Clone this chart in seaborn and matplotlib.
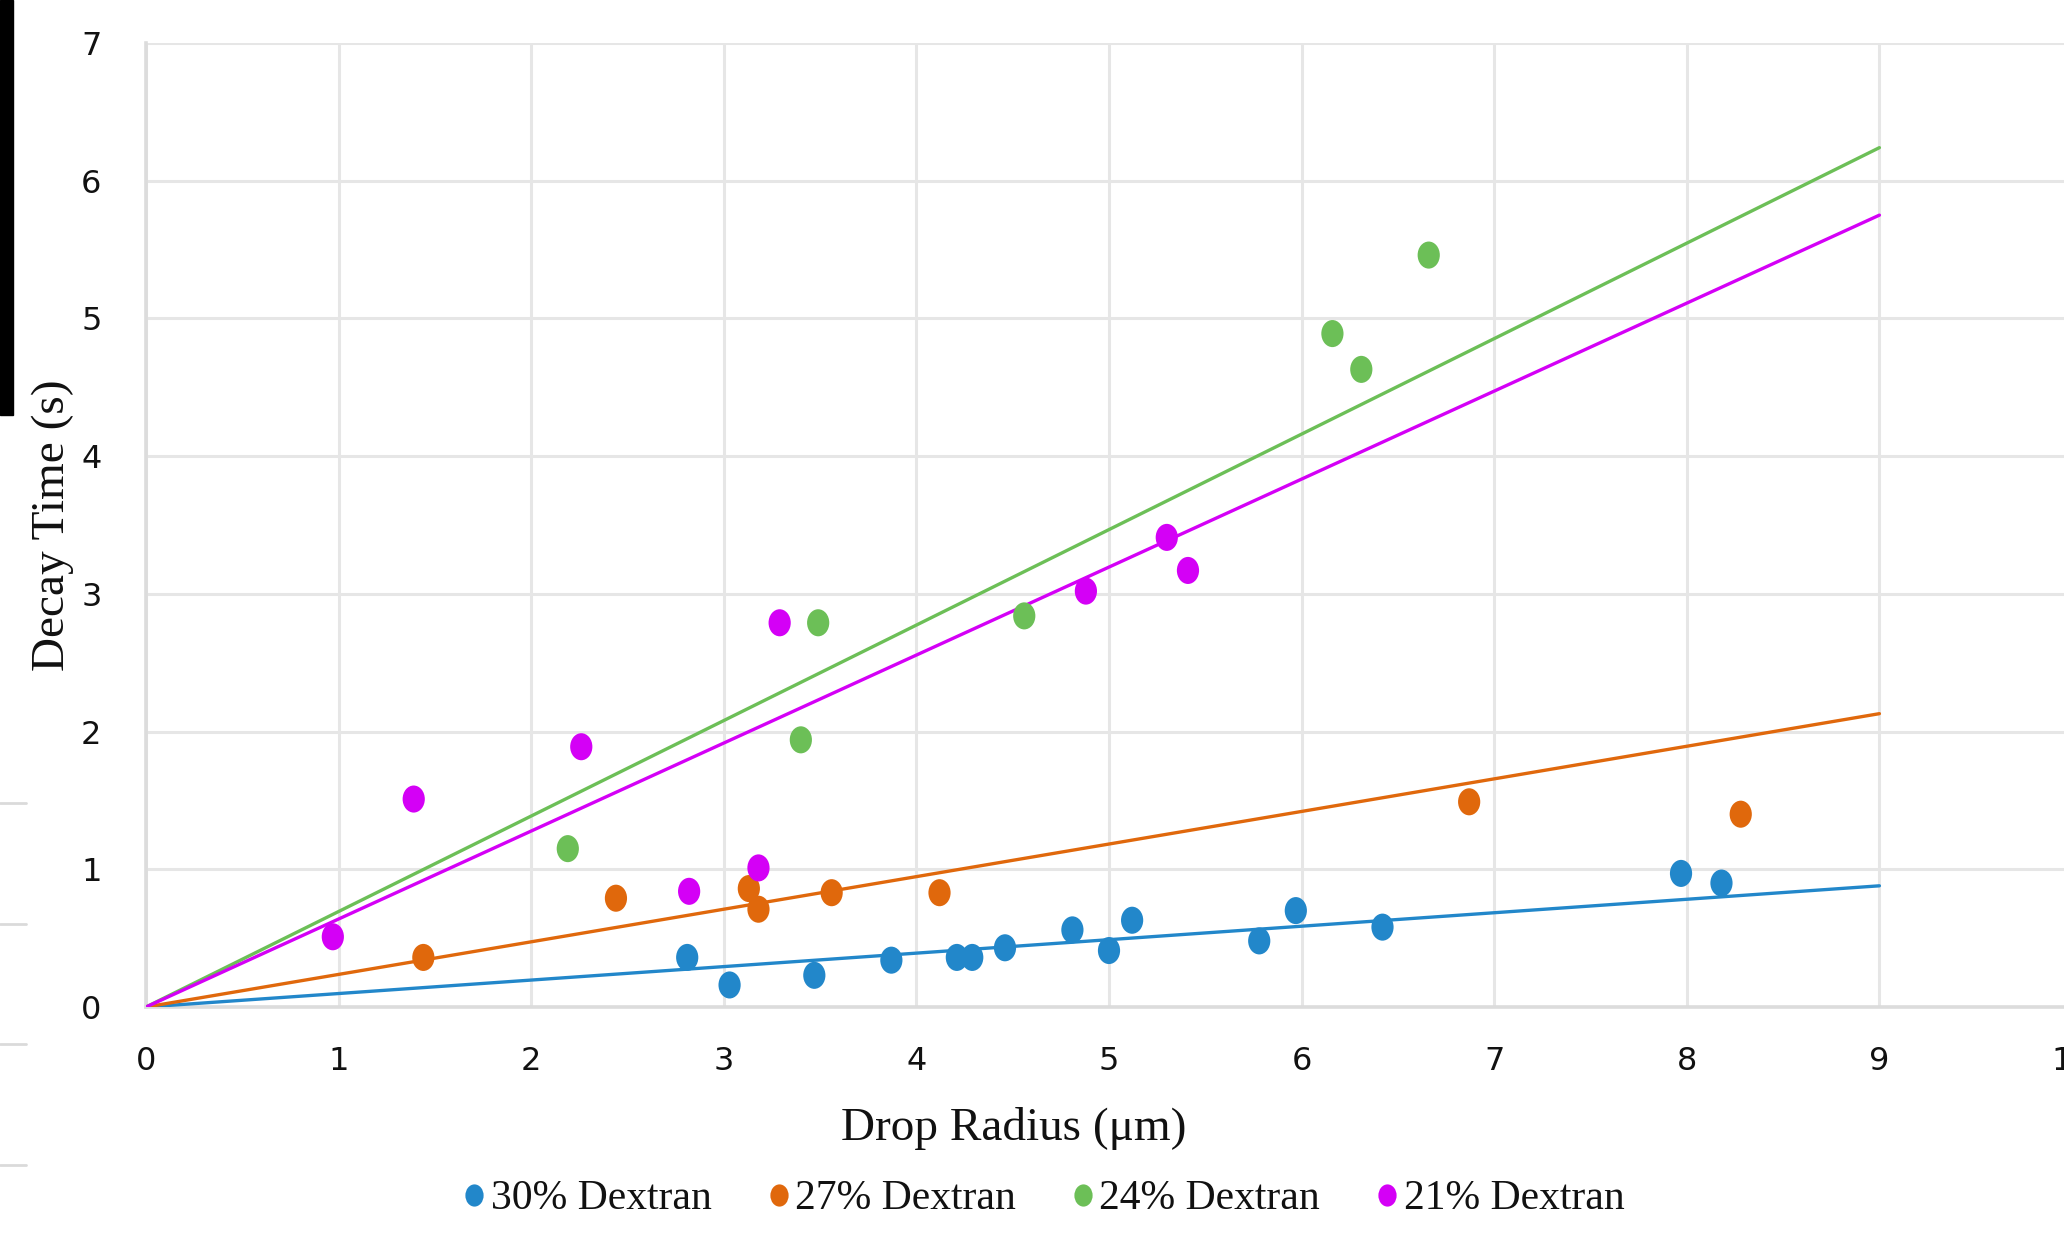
import numpy as np
import pandas as pd
import matplotlib
matplotlib.use("Agg")
import matplotlib.pyplot as plt
from matplotlib.lines import Line2D
from matplotlib.path import Path
from matplotlib.transforms import Affine2D
from matplotlib.patches import Rectangle
import seaborn as sns

# ---------------- data ----------------
series_names = ["30% Dextran", "27% Dextran", "24% Dextran", "21% Dextran"]
series_colors = ["#2287CA", "#E0680C", "#6CBF57", "#D400F6"]

x_30 = [2.81, 3.03, 3.47, 3.87, 4.21, 4.29, 4.46, 4.81, 5.00, 5.12, 5.78, 5.97, 6.42, 7.97, 8.18]
y_30 = [0.36, 0.16, 0.23, 0.34, 0.36, 0.36, 0.43, 0.56, 0.41, 0.63, 0.48, 0.70, 0.58, 0.97, 0.90]

x_27 = [1.44, 2.44, 3.13, 3.18, 3.56, 4.12, 6.87, 8.28]
y_27 = [0.36, 0.79, 0.86, 0.71, 0.83, 0.83, 1.49, 1.40]

x_24 = [2.19, 3.40, 3.49, 4.56, 6.16, 6.31, 6.66]
y_24 = [1.15, 1.94, 2.79, 2.84, 4.89, 4.63, 5.46]

x_21 = [0.97, 1.39, 2.26, 2.82, 3.18, 3.29, 4.88, 5.30, 5.41]
y_21 = [0.51, 1.51, 1.89, 0.84, 1.01, 2.79, 3.02, 3.41, 3.17]

# trendlines (through origin), read at their ends
trend_x = [0, 9]
trend_end = [0.88, 2.13, 6.24, 5.75]

x_ticks = [0, 1, 2, 3, 4, 5, 6, 7, 8, 9, 10]
y_ticks = [0, 1, 2, 3, 4, 5, 6, 7]

# ---------------- frames ----------------
xs = [x_30, x_27, x_24, x_21]
ys = [y_30, y_27, y_24, y_21]
pts = pd.concat([pd.DataFrame({"x": xv, "y": yv, "series": n})
                 for xv, yv, n in zip(xs, ys, series_names)], ignore_index=True)
trend = pd.concat([pd.DataFrame({"x": trend_x, "y": [0, e], "series": n})
                   for e, n in zip(trend_end, series_names)], ignore_index=True)
palette = dict(zip(series_names, series_colors))

# ---------------- figure ----------------
sns.set_theme(style="white")
plt.rcParams["font.family"] = ["DejaVu Sans"]

W, H = 2064, 1239
fig = plt.figure(figsize=(W / 100, H / 100), dpi=100)
left, right, top, bottom = 146, 2072, 43, 1007
ax = fig.add_axes([left / W, 1 - bottom / H, (right - left) / W, (bottom - top) / H])

ellipse = Affine2D().scale(0.82, 1.0).transform_path(Path.unit_circle())

sns.lineplot(data=trend, x="x", y="y", hue="series", hue_order=series_names,
             palette=palette, linewidth=2.4, legend=False, ax=ax, zorder=3)
sns.scatterplot(data=pts, x="x", y="y", hue="series", hue_order=series_names,
                palette=palette, marker=ellipse, s=380, linewidth=0,
                edgecolor="none", legend=False, ax=ax, zorder=4)

ax.set_xlim(0, 10)
ax.set_ylim(0, 7)
ax.set_xticks(x_ticks)
ax.set_yticks(y_ticks)
ax.set_xticklabels([str(t) for t in x_ticks])
ax.set_yticklabels([str(t) for t in y_ticks])
ax.tick_params(axis="both", length=0, labelsize=23, colors="#111111")
ax.tick_params(axis="x", pad=28)
ax.tick_params(axis="y", pad=32)

ax.grid(True, color="#E6E6E6", linewidth=2.2)
ax.set_axisbelow(True)
for s in ["top", "right"]:
    ax.spines[s].set_visible(False)
for s in ["left", "bottom"]:
    ax.spines[s].set_color("#DCDCDC")
    ax.spines[s].set_linewidth(2.6)

serif = ["Liberation Serif", "DejaVu Serif"]
ax.set_xlabel("Drop Radius (μm)", family=serif, fontsize=34, color="#111111")
ax.set_ylabel("Decay Time (s)", family=serif, fontsize=34, color="#111111")
ax.xaxis.label.set_va("center")
ax.yaxis.label.set_va("center")
ax.xaxis.set_label_coords((1014 - left) / (right - left), -(1128 - bottom) / (bottom - top))
ax.yaxis.set_label_coords(-(left - 53) / (right - left), 0.5)

handles = [Line2D([0], [0], marker=ellipse, linestyle="none", markersize=16,
                  markerfacecolor=c, markeredgewidth=0) for c in series_colors]
leg = fig.legend(handles, series_names, loc="center", ncol=4,
                 bbox_to_anchor=(1041 / W, 1 - 1199 / H), frameon=False,
                 prop={"family": serif, "size": 30}, handletextpad=0.0,
                 columnspacing=1.2, handlelength=0.8)
for t in leg.get_texts():
    t.set_color("#111111")

# screenshot edge artifacts on the left border
fig.patches.append(Rectangle((0, 1 - 415 / H), 13 / W, 415 / H, transform=fig.transFigure,
                             color="black", zorder=10))
for yy in [803, 924, 1044, 1165]:
    fig.lines.append(Line2D([0, 26 / W], [1 - yy / H, 1 - yy / H], transform=fig.transFigure,
                            color="#DADADA", linewidth=2))

fig.savefig("out.png", dpi=100)
